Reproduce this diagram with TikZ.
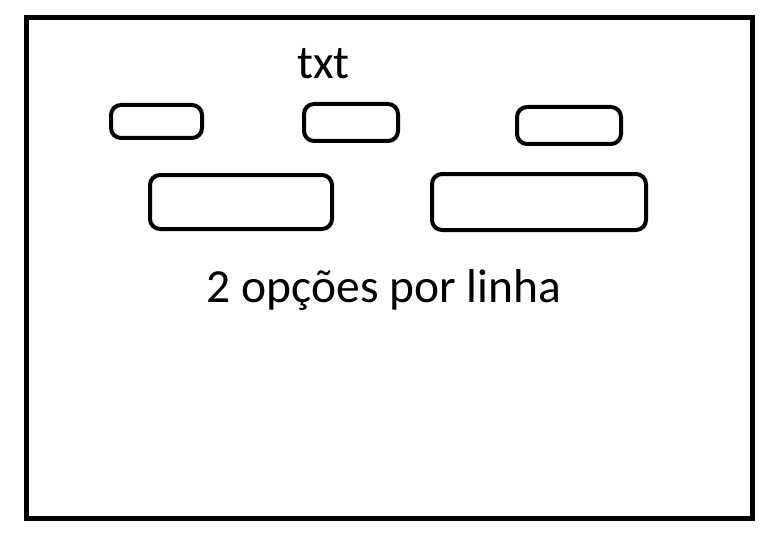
\documentclass[tikz,border=0pt]{standalone}
\usepackage{fontspec}
\setmainfont{Carlito}
\begin{document}
\begin{tikzpicture}[x=1pt,y=-1pt,
  optbox/.style={draw=black,line width=4pt,rounded corners=10pt,inner sep=0pt,outer sep=0pt,fill=white},
  lbl/.style={font=\fontsize{47.5}{52}\selectfont,inner sep=0pt,anchor=base}]
\useasboundingbox[fill=white] (0,0) rectangle (775,540);
\node[draw=black,line width=5pt,inner sep=0pt,minimum width=725.5pt,minimum height=501pt] (frame) at (389.25,268) {};
\node[lbl] (title) at (323.5,79) {txt};
\node[optbox,minimum width=91pt,minimum height=33pt] (b1) at (156.5,121.5) {};
\node[optbox,minimum width=94pt,minimum height=37pt] (b2) at (351,122.5) {};
\node[optbox,minimum width=104pt,minimum height=37pt] (b3) at (569,125.5) {};
\node[optbox,minimum width=182pt,minimum height=54pt] (c1) at (241,202) {};
\node[optbox,minimum width=214pt,minimum height=56pt] (c2) at (539,202) {};
\node[lbl] (caption) at (384,302) {2 opções por linha};
\end{tikzpicture}
\end{document}
